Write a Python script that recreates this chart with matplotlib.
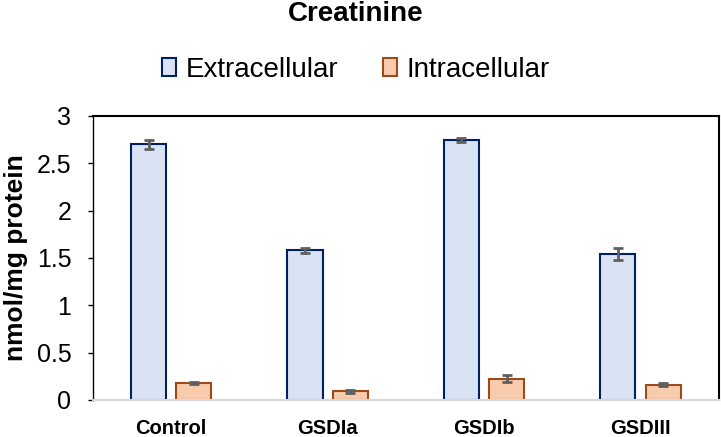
import numpy as np
import matplotlib.pyplot as plt

plt.rcParams['font.family'] = ['Liberation Sans', 'DejaVu Sans']

groups = ['Control', 'GSDIa', 'GSDIb', 'GSDIII']
extra = [2.70, 1.58, 2.745, 1.54]
extra_err = [0.05, 0.03, 0.02, 0.06]
intra = [0.18, 0.09, 0.225, 0.16]
intra_err = [0.015, 0.015, 0.035, 0.015]

fig = plt.figure(figsize=(7.21, 4.37), dpi=100)
ax = fig.add_axes([0.129, 0.0847, 0.868, 0.650])

x = np.arange(len(groups))
w = 0.224
off = 0.145
err_kw = dict(ecolor='#5f5f5f', elinewidth=2, capsize=3.5, capthick=2)
ax.bar(x - off, extra, w, yerr=extra_err, color='#dae3f3', edgecolor='#002060',
       linewidth=1.5, label='Extracellular', error_kw=err_kw)
ax.bar(x + off, intra, w, yerr=intra_err, color='#f8cbad', edgecolor='#9c4a1a',
       linewidth=1.5, label='Intracellular', error_kw=err_kw)

ax.set_xlim(-0.5, len(groups) - 0.5)
ax.set_ylim(0, 3)
ax.set_yticks(np.arange(0, 3.01, 0.5))
ax.set_yticklabels(['0', '0.5', '1', '1.5', '2', '2.5', '3'], fontsize=18)
ax.set_xticks(x)
ax.set_xticklabels(groups, fontsize=14.5, fontweight='bold')
ax.tick_params(axis='x', length=0, pad=14)
ax.tick_params(axis='y', length=3.6, width=1, direction='out', pad=12)
ax.set_ylabel('nmol/mg protein', fontsize=19, fontweight='bold', labelpad=6)

for s in ['top', 'right', 'left']:
    ax.spines[s].set_color('black')
    ax.spines[s].set_linewidth(1.5)
ax.spines['left'].set_linewidth(1)
ax.spines['bottom'].set_color('#d9d9d9')
ax.spines['bottom'].set_linewidth(1.5)

fig.text(0.494, 0.967, 'Creatinine', ha='center', va='center', fontsize=20, fontweight='bold')
fig.legend(loc='center', bbox_to_anchor=(0.494, 0.84), ncol=2, frameon=False,
           fontsize=20, handlelength=0.5, handleheight=0.6, handletextpad=0.35,
           columnspacing=1.6)

fig.savefig('out.png', dpi=100)
